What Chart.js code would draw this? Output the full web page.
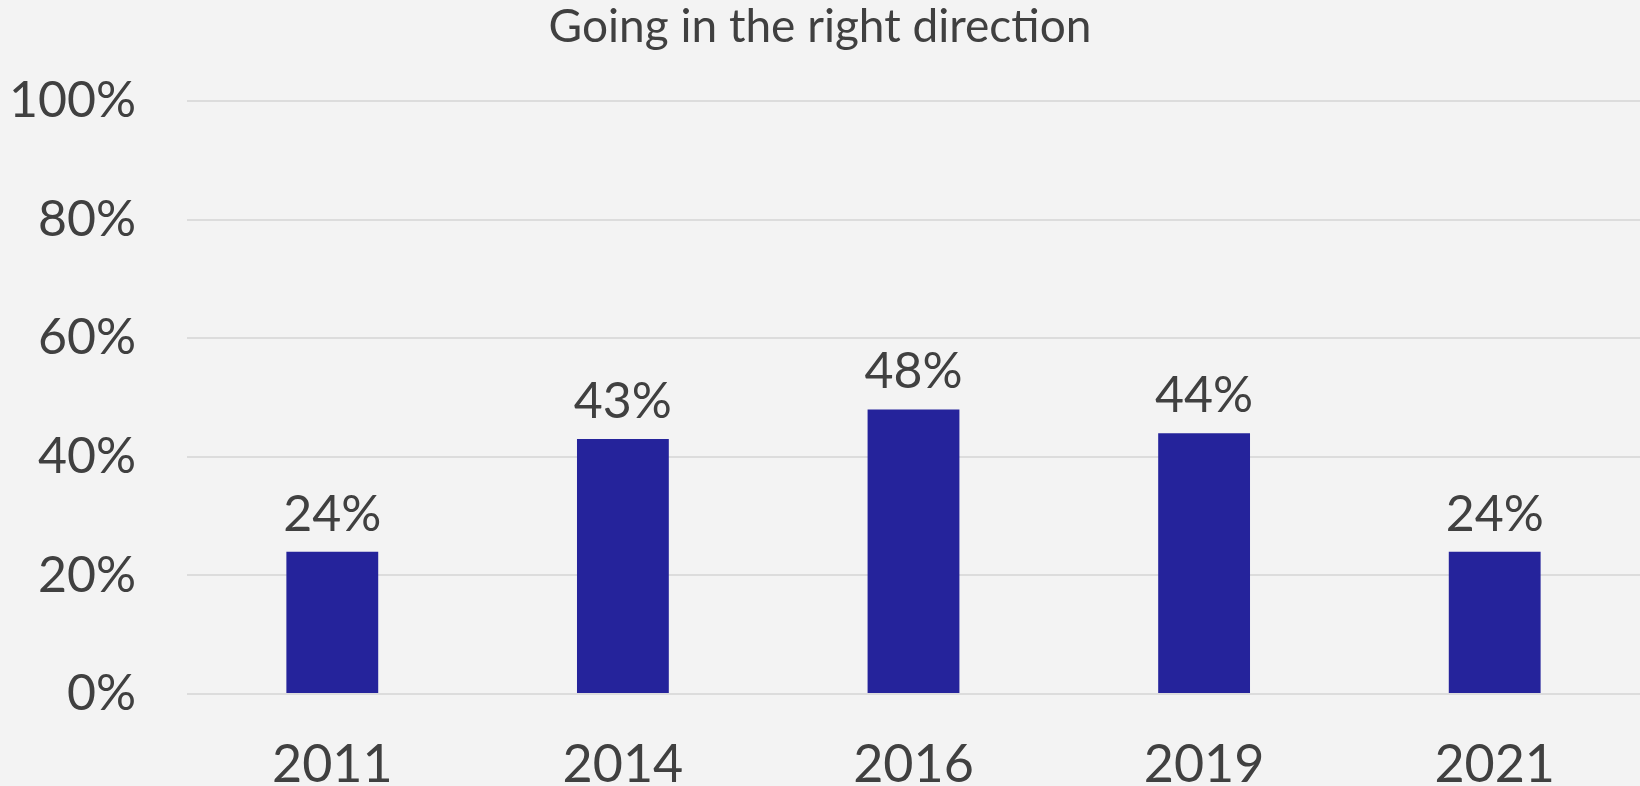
<!DOCTYPE html>
<html>
<head>
<meta charset="utf-8">
<script src="https://cdn.jsdelivr.net/npm/chart.js@4"></script>
<style>
  html, body { margin: 0; padding: 0; background: #f3f3f3; }
  canvas { display: block; }
</style>
</head>
<body>
<canvas id="bars" width="1640" height="786"></canvas>
<script>
const years = ["2011", "2014", "2016", "2019", "2021"];
const rightDirection = [24, 43, 48, 44, 24];
const yTicks = [0, 20, 40, 60, 80, 100];

const textColor = "#404040";
const fontFamily = "Lato, 'Open Sans', sans-serif";

// value labels above each bar
const valueLabels = {
  id: "valueLabels",
  afterDatasetsDraw(chart) {
    const ctx = chart.ctx;
    const meta = chart.getDatasetMeta(0);
    ctx.save();
    ctx.fillStyle = textColor;
    ctx.font = "50px " + fontFamily;
    ctx.textAlign = "center";
    ctx.textBaseline = "alphabetic";
    meta.data.forEach((bar, i) => {
      ctx.fillText(rightDirection[i] + "%", bar.x, bar.y - 21);
    });
    ctx.restore();
  }
};

const ctx = document.getElementById("bars");

new Chart(ctx, {
  type: "bar",
  data: {
    labels: years,
    datasets: [
      {
        label: "Going in the right direction",
        data: rightDirection,
        backgroundColor: "#25239b",
        borderWidth: 0,
        categoryPercentage: 1,
        barPercentage: 0.316,
      },
    ],
  },
  options: {
    responsive: false,
    animation: false,
    layout: { padding: { left: 0, right: 0, top: 0, bottom: 0 } },
    plugins: {
      legend: { display: false },
      tooltip: { enabled: false },
      title: {
        display: true,
        text: "Going in the right direction",
        color: textColor,
        font: { family: fontFamily, size: 46, weight: "normal" },
        padding: { top: 0, bottom: 46 },
      },
    },
    scales: {
      x: {
        grid: { display: false, drawTicks: false },
        border: { display: false },
        ticks: {
          color: textColor,
          font: { family: fontFamily, size: 52 },
          padding: 40,
        },
        afterFit(scale) { scale.height = 92; },
      },
      y: {
        min: 0,
        max: 100,
        afterBuildTicks(scale) {
          scale.ticks = yTicks.map(v => ({ value: v }));
        },
        grid: { color: "#dcdcdc", lineWidth: 2, drawTicks: false },
        border: { display: false },
        ticks: {
          color: textColor,
          font: { family: fontFamily, size: 50 },
          padding: 51,
          callback: v => v + "%",
        },
        afterFit(scale) { scale.width = 187; },
      },
    },
  },
  plugins: [valueLabels],
});
</script>
</body>
</html>
